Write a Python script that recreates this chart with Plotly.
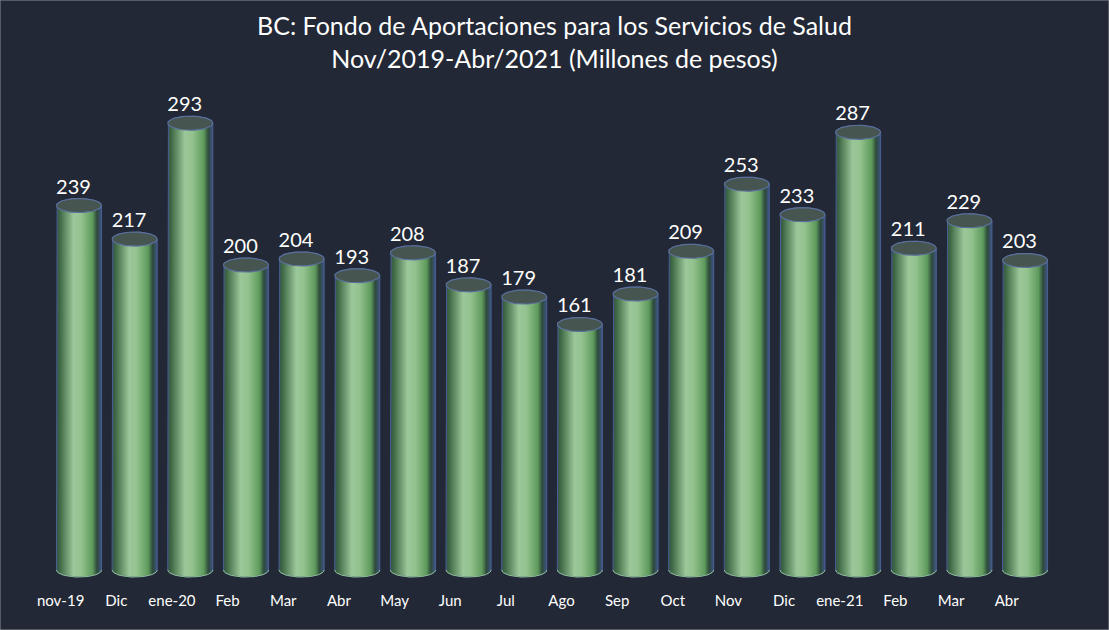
import numpy as np
import plotly.graph_objects as go

# data
# ----
categories = ["nov-19", "Dic", "ene-20", "Feb", "Mar", "Abr", "May", "Jun", "Jul",
              "Ago", "Sep", "Oct", "Nov", "Dic", "ene-21", "Feb", "Mar", "Abr"]
values = [239, 217, 293, 200, 204, 193, 208, 187, 179,
          161, 181, 209, 253, 233, 287, 211, 229, 203]

title_lines = ["BC: Fondo de Aportaciones para los Servicios de Salud",
               "Nov/2019-Abr/2021 (Millones de pesos)"]

BG = "#222835"
FONT = "Lato, 'Open Sans', sans-serif"

half_w = 0.405     # cylinder half width (x units)
cap_h = 4.6        # ellipse half height (y units)
t = np.linspace(0, np.pi, 40)

fig = go.Figure()

body_scale = [
    [0.0, "#34504a"],
    [0.08, "#3f6a45"],
    [0.38, "#9cc79a"],
    [0.55, "#93c28e"],
    [0.8, "#5e9a5c"],
    [0.9, "#2e4a3a"],
    [1.0, "#3e5585"],
]

for i, v in enumerate(values):
    # body silhouette: left edge up, top back arc, right edge down, bottom front arc
    top_x = i - half_w * np.cos(t)
    top_y = v + cap_h * np.sin(t)
    bot_x = i + half_w * np.cos(t)
    bot_y = -cap_h * np.sin(t)
    xs = np.concatenate([[i - half_w], top_x, [i + half_w], bot_x])
    ys = np.concatenate([[0], top_y, [0], bot_y])
    fig.add_trace(go.Scatter(
        x=xs, y=ys, mode="lines", fill="toself",
        line=dict(color="#4a5f94", width=1),
        fillgradient=dict(type="horizontal", colorscale=body_scale),
        hoverinfo="skip", showlegend=False,
    ))
    # top cap
    ang = np.linspace(0, 2 * np.pi, 60)
    fig.add_trace(go.Scatter(
        x=i + half_w * np.cos(ang), y=v + cap_h * np.sin(ang),
        mode="lines", fill="toself", fillcolor="#46554f",
        line=dict(color="#5a6f9c", width=1.2),
        hoverinfo="skip", showlegend=False,
    ))
    # bottom front rim
    fig.add_trace(go.Scatter(
        x=bot_x, y=bot_y, mode="lines",
        line=dict(color="#8fbf8c", width=1),
        hoverinfo="skip", showlegend=False,
    ))

x = np.arange(len(values))

# value labels
fig.add_trace(go.Scatter(
    x=x - 0.1, y=np.array(values) + cap_h, mode="text",
    text=[str(v) for v in values], textposition="top center",
    textfont=dict(family=FONT, size=20, color="white"),
    hoverinfo="skip", showlegend=False,
))

W, H = 1109, 630
mb = 40
plot_h = H - mb
px_x = 55.65
px_y = 1.525
x0_px, y0_px = 79, 570

fig.update_layout(
    width=W, height=H,
    paper_bgcolor=BG, plot_bgcolor=BG,
    margin=dict(l=0, r=0, t=0, b=mb, pad=0, autoexpand=False),
    title=dict(text="<br>".join(title_lines), x=0.5, xanchor="center",
               y=1 - 35 / H, yanchor="middle", automargin=False,
               font=dict(family=FONT, size=25, color="white")),
    xaxis=dict(range=[-x0_px / px_x, (W - x0_px) / px_x], automargin=False,
               tickvals=x - 0.33, ticktext=categories,
               tickfont=dict(family=FONT, size=15, color="white"),
               showgrid=False, zeroline=False, showline=False, ticks=""),
    yaxis=dict(range=[-(plot_h - y0_px) / px_y, y0_px / px_y], automargin=False,
               visible=False, showgrid=False, zeroline=False),
    shapes=[dict(type="rect", xref="paper", yref="paper",
                 x0=0, x1=1, y0=-mb / plot_h, y1=1,
                 line=dict(color="#8a8f99", width=1))],
)

# page body has a default 8px margin; drop it so the chart fills the window
fig.write_html("out.html",
               config={"displayModeBar": False},
               post_script="document.body.style.margin='0';"
                           "document.body.style.overflow='hidden';")
